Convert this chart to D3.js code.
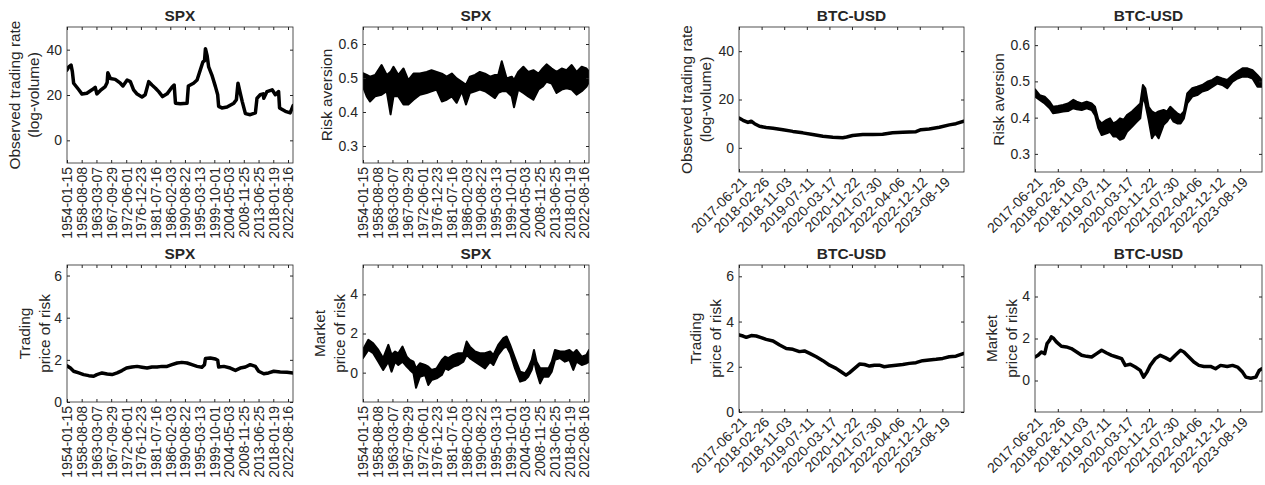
<html lang="en">
<head>
<meta charset="utf-8" />
<title>SPX / BTC-USD</title>
<script src="https://cdn.jsdelivr.net/npm/d3@7"></script>
<style>
  body { margin: 0; background: #fff; }
  text { font-family: "Liberation Sans", Arial, sans-serif; fill: #262626; }
</style>
</head>
<body>
<div id="chart"></div>
<script>
// tick labels
var spxTicks = ["1954-01-15", "1958-08-08", "1963-03-07", "1967-09-29", "1972-06-01", "1976-12-23",
                "1981-07-16", "1986-02-03", "1990-08-22", "1995-03-13", "1999-10-01", "2004-05-03",
                "2008-11-25", "2013-06-25", "2018-01-19", "2022-08-16"];
var btcTicks = ["2017-06-21", "2018-02-26", "2018-11-03", "2019-07-11", "2020-03-17", "2020-11-22",
                "2021-07-30", "2022-04-06", "2022-12-12", "2023-08-19"];

// SPX series  [decimal year, value]  or [decimal year, high, low] for noisy ones
var spxTradingRate = [[1954.0,31.0],[1954.6,32.4],[1955.3,33.2],[1955.7,30.3],[1956.1,25.2],[1957.7,22.3],
  [1958.7,20.4],[1960.2,20.8],[1961.8,22.3],[1962.8,23.4],[1963.3,20.5],[1964.4,22.0],[1965.9,23.7],
  [1966.5,25.5],[1966.7,29.8],[1967.5,27.3],[1969.0,26.9],[1970.6,25.2],[1971.4,24.0],[1972.7,26.6],
  [1973.7,25.9],[1974.7,22.3],[1975.8,20.4],[1977.3,19.1],[1978.3,20.1],[1979.4,25.9],[1980.4,24.4],
  [1981.5,23.0],[1982.5,21.5],[1983.7,19.3],[1985.1,20.5],[1986.6,23.4],[1987.3,24.4],[1987.7,16.4],
  [1989.2,16.1],[1991.3,16.4],[1991.7,24.0],[1993.3,25.2],[1994.4,26.6],[1995.4,31.0],[1996.2,34.6],
  [1996.7,35.1],[1997.0,40.4],[1997.5,37.5],[1998.0,32.4],[1999.0,28.8],[2000.1,23.7],[2000.8,20.1],
  [2001.1,15.0],[2002.1,14.3],[2003.7,14.7],[2005.8,16.4],[2006.6,17.9],[2007.1,25.2],[2007.8,20.8],
  [2008.4,17.2],[2009.4,11.8],[2010.9,11.3],[2012.5,12.1],[2013.0,18.6],[2014.0,20.1],[2014.9,20.5],
  [2015.1,18.6],[2016.1,21.5],[2017.7,22.3],[2018.7,20.1],[2019.7,21.5],[2020.0,14.3],[2021.8,12.8],
  [2023.3,12.1],[2024.2,15.3]];

var spxRiskAversion = [[1954.0,0.514,0.475],[1955.2,0.509,0.446],[1956.2,0.504,0.431],[1957.8,0.509,0.446],
  [1959.8,0.538,0.451],[1961.4,0.509,0.461],[1962.6,0.518,0.393],[1963.5,0.533,0.446],[1965.0,0.509,0.446],
  [1966.6,0.528,0.422],[1968.1,0.494,0.422],[1969.7,0.513,0.436],[1971.7,0.513,0.451],[1973.8,0.518,0.456],
  [1975.3,0.523,0.461],[1976.9,0.518,0.466],[1978.5,0.513,0.431],[1980.0,0.504,0.436],[1981.6,0.513,0.446],
  [1983.1,0.499,0.427],[1984.7,0.489,0.461],[1986.0,0.480,0.422],[1987.2,0.504,0.456],[1988.8,0.509,0.461],
  [1990.3,0.518,0.466],[1991.9,0.513,0.461],[1993.5,0.504,0.451],[1995.0,0.509,0.441],[1996.0,0.509,0.456],
  [1997.1,0.549,0.461],[1998.6,0.499,0.461],[2000.2,0.504,0.446],[2000.9,0.494,0.414],[2002.2,0.518,0.466],
  [2003.8,0.533,0.456],[2005.3,0.518,0.446],[2006.9,0.523,0.436],[2008.5,0.513,0.466],[2009.8,0.528,0.475],
  [2011.0,0.540,0.489],[2012.6,0.528,0.484],[2014.1,0.518,0.456],[2015.7,0.528,0.466],[2017.2,0.523,0.470],
  [2018.8,0.538,0.466],[2020.3,0.518,0.451],[2021.9,0.533,0.461],[2023.4,0.528,0.475],[2024.2,0.518,0.489]];

var spxTradingPrice = [[1954.0,1.72],[1955.1,1.61],[1956.1,1.46],[1957.7,1.38],[1959.2,1.30],[1960.8,1.25],
  [1962.3,1.22],[1963.3,1.30],[1964.9,1.38],[1966.5,1.33],[1968.0,1.30],[1969.6,1.38],[1971.1,1.49],
  [1972.5,1.61],[1974.2,1.66],[1975.8,1.69],[1977.3,1.65],[1978.9,1.61],[1980.4,1.66],[1982.0,1.66],
  [1983.5,1.69],[1985.1,1.69],[1986.6,1.77],[1988.2,1.85],[1989.7,1.88],[1991.3,1.85],[1992.8,1.77],
  [1994.4,1.69],[1995.9,1.65],[1996.7,1.77],[1997.0,2.06],[1998.5,2.09],[2000.1,2.04],[2000.8,1.98],
  [2001.1,1.66],[2002.7,1.69],[2004.7,1.61],[2006.3,1.50],[2007.8,1.61],[2009.4,1.66],[2010.9,1.77],
  [2012.5,1.69],[2013.5,1.46],[2015.1,1.34],[2016.6,1.38],[2018.2,1.46],[2020.2,1.42],[2022.3,1.41],
  [2024.2,1.38]];

var spxMarketPrice = [[1954.0,1.16,0.74],[1955.7,1.68,1.16],[1957.2,1.50,0.99],[1958.8,1.16,0.56],
  [1960.3,0.74,0.14],[1961.9,1.42,0.56],[1962.9,0.91,0.05],[1964.0,1.08,0.56],[1965.0,0.99,0.39],
  [1966.3,1.33,0.56],[1967.6,0.82,0.31],[1968.6,0.65,0.14],[1969.7,0.56,-0.03],[1970.5,0.22,-0.77],
  [1971.7,0.48,-0.21],[1973.3,0.39,-0.12],[1974.3,0.31,-0.63],[1975.3,0.14,-0.38],[1976.9,0.22,-0.29],
  [1978.5,0.65,-0.12],[1979.5,0.82,0.22],[1980.5,0.74,0.14],[1982.1,0.91,0.31],[1983.6,0.99,0.39],
  [1985.2,0.99,0.56],[1986.2,1.59,0.91],[1987.2,1.33,0.74],[1988.8,1.08,0.56],[1990.3,0.99,0.39],
  [1991.9,0.99,0.22],[1993.5,1.08,0.56],[1994.5,0.91,0.39],[1996.0,1.42,0.91],[1997.6,1.76,1.25],
  [1998.6,1.85,1.33],[1999.7,1.42,0.99],[2001.2,0.74,0.22],[2002.8,0.05,-0.46],[2004.3,-0.03,-0.38],
  [2005.3,0.22,-0.21],[2006.4,0.65,0.14],[2007.1,1.16,0.65],[2007.9,0.56,0.05],[2009.0,0.22,-0.55],
  [2010.0,0.22,-0.21],[2011.6,0.22,-0.21],[2012.6,0.56,0.05],[2013.6,1.16,0.65],[2015.2,1.08,0.74],
  [2016.7,1.08,0.56],[2018.1,1.16,0.65],[2019.3,0.99,0.14],[2020.3,1.16,0.56],[2021.9,0.82,0.39],
  [2023.4,0.91,0.48],[2024.2,1.16,0.56]];

// BTC-USD series
var btcTradingRate = [[2017.47,12.3],[2017.59,11.4],[2017.74,10.5],[2017.84,11.0],[2017.94,10.0],
  [2018.09,8.9],[2018.29,8.4],[2018.50,8.1],[2018.80,7.5],[2019.10,6.8],[2019.40,6.2],[2019.70,5.5],
  [2020.01,4.8],[2020.31,4.4],[2020.61,4.2],[2020.73,4.5],[2020.91,5.1],[2021.22,5.5],[2021.52,5.5],
  [2021.82,5.6],[2022.12,6.2],[2022.43,6.4],[2022.83,6.7],[2022.98,7.5],[2023.23,7.8],[2023.54,8.5],
  [2023.84,9.5],[2024.04,10.0],[2024.28,11.0]];

var btcRiskAversion = [[2017.47,0.478,0.458],[2017.61,0.462,0.449],[2017.76,0.458,0.439],[2017.91,0.444,0.426],
  [2018.01,0.430,0.412],[2018.16,0.432,0.414],[2018.31,0.435,0.417],[2018.46,0.439,0.418],[2018.62,0.449,0.426],
  [2018.72,0.444,0.423],[2018.87,0.439,0.421],[2019.02,0.444,0.426],[2019.17,0.439,0.421],[2019.27,0.430,0.407],
  [2019.37,0.394,0.371],[2019.47,0.384,0.352],[2019.62,0.394,0.357],[2019.72,0.398,0.361],[2019.82,0.384,0.348],
  [2019.92,0.389,0.348],[2020.02,0.398,0.339],[2020.13,0.394,0.343],[2020.23,0.407,0.361],[2020.38,0.417,0.375],
  [2020.53,0.430,0.389],[2020.63,0.439,0.398],[2020.71,0.490,0.458],[2020.78,0.481,0.439],[2020.88,0.430,0.394],
  [2020.98,0.417,0.343],[2021.08,0.412,0.357],[2021.18,0.417,0.343],[2021.33,0.421,0.380],[2021.43,0.417,0.389],
  [2021.53,0.430,0.403],[2021.63,0.421,0.389],[2021.74,0.412,0.384],[2021.84,0.407,0.384],[2021.94,0.417,0.398],
  [2022.04,0.467,0.439],[2022.19,0.481,0.458],[2022.34,0.485,0.462],[2022.49,0.490,0.472],[2022.64,0.499,0.476],
  [2022.79,0.504,0.485],[2022.94,0.513,0.494],[2023.09,0.508,0.490],[2023.24,0.504,0.481],[2023.40,0.517,0.499],
  [2023.55,0.527,0.508],[2023.70,0.536,0.513],[2023.85,0.536,0.513],[2024.00,0.531,0.508],[2024.15,0.517,0.485],
  [2024.28,0.504,0.485]];

var btcTradingPrice = [[2017.47,3.41],[2017.59,3.36],[2017.69,3.30],[2017.84,3.38],[2017.99,3.36],
  [2018.14,3.29],[2018.29,3.21],[2018.50,3.14],[2018.70,2.96],[2018.90,2.81],[2019.10,2.77],[2019.30,2.67],
  [2019.45,2.70],[2019.61,2.59],[2019.81,2.44],[2020.01,2.27],[2020.21,2.07],[2020.41,1.93],[2020.56,1.78],
  [2020.71,1.63],[2020.81,1.73],[2020.97,1.93],[2021.12,2.12],[2021.27,2.10],[2021.42,2.03],[2021.57,2.07],
  [2021.72,2.07],[2021.87,2.00],[2022.02,2.03],[2022.23,2.07],[2022.43,2.10],[2022.63,2.15],[2022.83,2.18],
  [2023.03,2.27],[2023.23,2.30],[2023.44,2.33],[2023.64,2.37],[2023.84,2.44],[2024.04,2.47],[2024.28,2.59]];

var btcMarketPrice = [[2017.47,1.12],[2017.56,1.20],[2017.66,1.36],[2017.76,1.28],[2017.83,1.76],
  [2017.91,1.92],[2017.96,2.08],[2018.03,2.00],[2018.11,1.84],[2018.26,1.63],[2018.41,1.60],[2018.56,1.52],
  [2018.72,1.36],[2018.87,1.20],[2019.02,1.15],[2019.17,1.12],[2019.32,1.28],[2019.47,1.44],[2019.62,1.31],
  [2019.77,1.20],[2019.92,1.12],[2020.07,1.04],[2020.18,0.72],[2020.33,0.77],[2020.48,0.64],[2020.63,0.48],
  [2020.73,0.16],[2020.83,0.40],[2020.93,0.72],[2021.08,1.04],[2021.23,1.20],[2021.38,1.09],[2021.53,0.96],
  [2021.68,1.20],[2021.84,1.44],[2021.94,1.36],[2022.09,1.12],[2022.24,0.88],[2022.39,0.72],[2022.54,0.67],
  [2022.74,0.67],[2022.89,0.56],[2023.04,0.72],[2023.24,0.67],[2023.40,0.72],[2023.55,0.64],[2023.70,0.40],
  [2023.80,0.16],[2023.95,0.11],[2024.10,0.16],[2024.20,0.48],[2024.28,0.56]];

function decYear(s) {
  var d = new Date(s + "T00:00:00Z"), y = d.getUTCFullYear();
  var a = Date.UTC(y, 0, 1), b = Date.UTC(y + 1, 0, 1);
  return y + (d - a) / (b - a);
}

var spxDomain = [decYear("1954-01-15"), 2024.17];
var btcDomain = [decYear("2017-06-21"), 2024.285];

var panels = [
  {x0: 67,   x1: 293,  y0: 27,  y1: 163, title: "SPX", lab: ["Observed trading rate", "(log-volume)"], labX: [15, 34],
   yDomain: [-10, 50], yTicks: [0, 20, 40], fmt: "d", xDomain: spxDomain, ticks: spxTicks, rot: 90, data: spxTradingRate},
  {x0: 363,  x1: 589,  y0: 27,  y1: 163, title: "SPX", lab: ["Risk aversion"], labX: [327],
   yDomain: [0.25, 0.65], yTicks: [0.3, 0.4, 0.5, 0.6], fmt: ".1f", xDomain: spxDomain, ticks: spxTicks, rot: 90, data: spxRiskAversion, band: true},
  {x0: 739,  x1: 964,  y0: 27,  y1: 172, title: "BTC-USD", lab: ["Observed trading rate", "(log-volume)"], labX: [687, 706],
   yDomain: [-10, 50], yTicks: [0, 20, 40], fmt: "d", xDomain: btcDomain, ticks: btcTicks, rot: 45, data: btcTradingRate},
  {x0: 1035, x1: 1262, y0: 27,  y1: 172, title: "BTC-USD", lab: ["Risk aversion"], labX: [999],
   yDomain: [0.25, 0.65], yTicks: [0.3, 0.4, 0.5, 0.6], fmt: ".1f", xDomain: btcDomain, ticks: btcTicks, rot: 45, data: btcRiskAversion, band: true},
  {x0: 67,   x1: 293,  y0: 265, y1: 402, title: "SPX", lab: ["Trading", "price of risk"], labX: [25, 45],
   yDomain: [0, 6.5], yTicks: [0, 2, 4, 6], fmt: "d", xDomain: spxDomain, ticks: spxTicks, rot: 90, data: spxTradingPrice},
  {x0: 363,  x1: 589,  y0: 265, y1: 402, title: "SPX", lab: ["Market", "price of risk"], labX: [320, 340],
   yDomain: [-1.5, 5.5], yTicks: [0, 2, 4], fmt: "d", xDomain: spxDomain, ticks: spxTicks, rot: 90, data: spxMarketPrice, band: true},
  {x0: 739,  x1: 964,  y0: 265, y1: 412, title: "BTC-USD", lab: ["Trading", "price of risk"], labX: [696, 716],
   yDomain: [0, 6.5], yTicks: [0, 2, 4, 6], fmt: "d", xDomain: btcDomain, ticks: btcTicks, rot: 45, data: btcTradingPrice},
  {x0: 1035, x1: 1262, y0: 265, y1: 412, title: "BTC-USD", lab: ["Market", "price of risk"], labX: [992, 1012],
   yDomain: [-1.5, 5.5], yTicks: [0, 2, 4], fmt: "d", xDomain: btcDomain, ticks: btcTicks, rot: 45, data: btcMarketPrice}
];

var svg = d3.select("#chart").append("svg")
            .attr("width", 1265)
            .attr("height", 485);

var axisColor = "#262626";

panels.forEach(function(p, i) {
  var x = d3.scaleLinear().domain(p.xDomain).range([p.x0, p.x1]);
  var y = d3.scaleLinear().domain(p.yDomain).range([p.y1, p.y0]);
  var g = svg.append("g");

  g.append("clipPath").attr("id", "clip" + i)
   .append("rect").attr("x", p.x0).attr("y", p.y0)
   .attr("width", p.x1 - p.x0).attr("height", p.y1 - p.y0);

  var plot = g.append("g").attr("clip-path", "url(#clip" + i + ")");
  if (p.band) {
    var area = d3.area()
                 .x(function(d) { return x(d[0]); })
                 .y0(function(d) { return y(d[2]); })
                 .y1(function(d) { return y(d[1]); });
    plot.append("path").attr("d", area(p.data))
        .attr("fill", "#000").attr("stroke", "#000")
        .attr("stroke-width", 2).attr("stroke-linejoin", "round");
  } else {
    var line = d3.line()
                 .x(function(d) { return x(d[0]); })
                 .y(function(d) { return y(d[1]); });
    plot.append("path").attr("d", line(p.data))
        .attr("fill", "none").attr("stroke", "#000")
        .attr("stroke-width", 3.5).attr("stroke-linejoin", "round").attr("stroke-linecap", "round");
  }

  // ticks on all four sides, pointing inwards
  var tickVals = p.ticks.map(decYear);
  var bottom = g.append("g").attr("transform", "translate(0," + p.y1 + ")")
                .call(d3.axisBottom(x).tickValues(tickVals).tickSize(-3)
                        .tickFormat(function(d, k) { return p.ticks[k]; }));
  g.append("g").attr("transform", "translate(0," + p.y0 + ")")
   .call(d3.axisTop(x).tickValues(tickVals).tickSize(-3).tickFormat(""));
  var left = g.append("g").attr("transform", "translate(" + p.x0 + ",0)")
              .call(d3.axisLeft(y).tickValues(p.yTicks).tickSize(-3).tickPadding(5).tickFormat(d3.format(p.fmt)));
  g.append("g").attr("transform", "translate(" + p.x1 + ",0)")
   .call(d3.axisRight(y).tickValues(p.yTicks).tickSize(-3).tickFormat(""));

  g.selectAll(".domain").remove();
  g.selectAll(".tick line").attr("stroke", axisColor);
  left.selectAll("text").attr("font-size", 14).attr("fill", axisColor);

  var labels = bottom.selectAll("text").attr("font-size", 14).attr("fill", axisColor)
                     .attr("text-anchor", "end").attr("x", 0);
  if (p.rot === 90) {
    labels.attr("y", 0).attr("dy", "0.35em")
          .attr("transform", "translate(0,4) rotate(-90)");
  } else {
    labels.attr("y", 0).attr("dy", "0.71em")
          .attr("transform", "translate(1,4) rotate(-45)");
  }

  g.append("rect").attr("x", p.x0).attr("y", p.y0)
   .attr("width", p.x1 - p.x0).attr("height", p.y1 - p.y0)
   .attr("fill", "none").attr("stroke", axisColor).attr("stroke-width", 0.8);

  g.append("text").attr("x", (p.x0 + p.x1) / 2).attr("y", p.y0 - 6)
   .attr("text-anchor", "middle").attr("font-size", 15.4).attr("font-weight", "bold")
   .attr("fill", "#000").text(p.title);

  p.lab.forEach(function(s, k) {
    g.append("text")
     .attr("transform", "translate(" + p.labX[k] + "," + (p.y0 + p.y1) / 2 + ") rotate(-90)")
     .attr("text-anchor", "middle").attr("dy", "0.35em")
     .attr("font-size", 15.4).attr("fill", axisColor).text(s);
  });
});
</script>
</body>
</html>
